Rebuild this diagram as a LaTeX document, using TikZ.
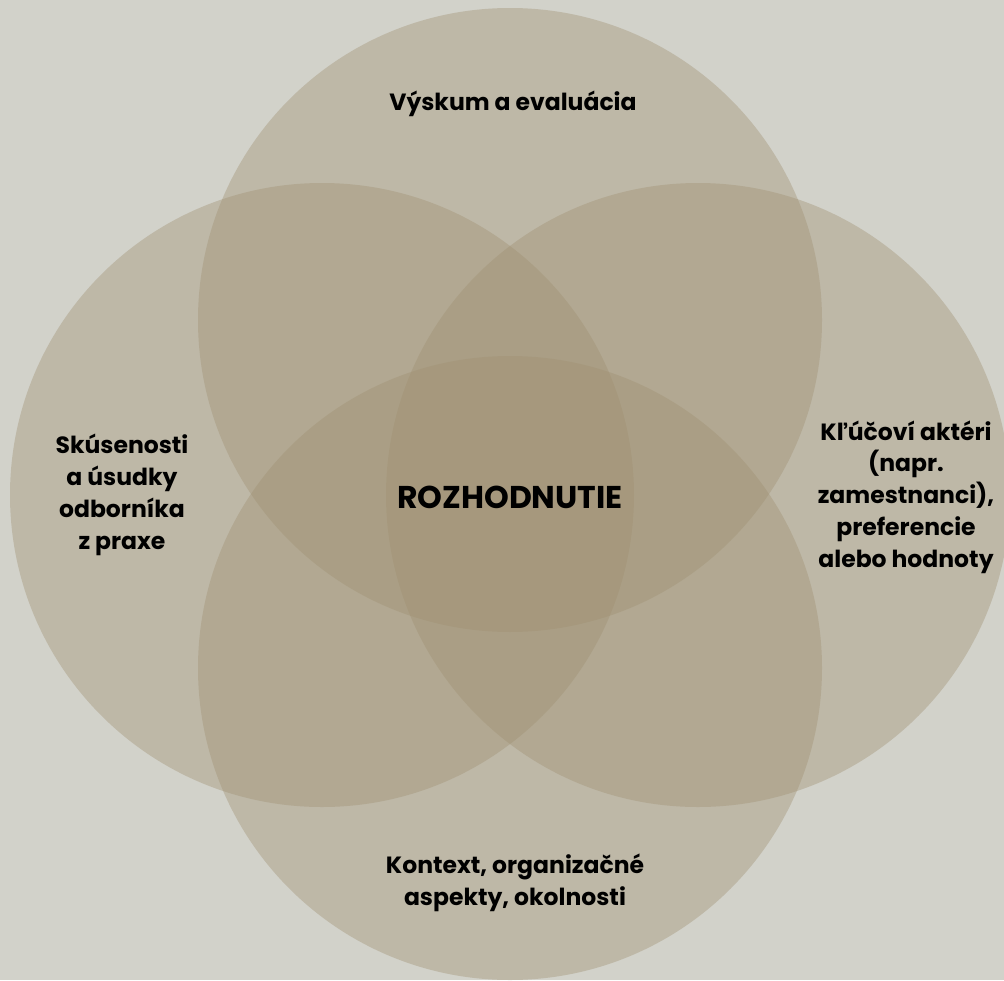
\documentclass[tikz,border=0pt]{standalone}
\usepackage{fontspec}
\setmainfont{Poppins}[UprightFont=* Bold]
\definecolor{bgc}{RGB}{210,210,202}
\definecolor{petal}{RGB}{160,145,115}
\begin{document}
\begin{tikzpicture}[x=1pt,y=-1pt,
  petalc/.style={circle,fill=petal,fill opacity=0.4,draw=none,minimum size=624pt,inner sep=0pt},
  lbl/.style={align=center,font=\fontsize{23.5}{31.8}\selectfont,text=black,inner sep=0pt}]
  \fill[bgc] (0,0) rectangle (1004,980);
  \useasboundingbox (0,0) rectangle (1004,980);
  \begin{scope}
    \clip (0,0) rectangle (1004,980);
    \node[petalc] (ctop) at (510,320) {};
    \node[petalc] (cleft) at (322,495) {};
    \node[petalc] (cright) at (698,495) {};
    \node[petalc] (cbottom) at (510,668) {};
  \end{scope}
  \node[lbl] (ttop) at (513,104) {Výskum a evaluácia};
  \node[lbl] (tleft) at (122,495) {Skúsenosti\\a úsudky\\odborníka\\z praxe};
  \node[lbl] (tright) at (906,497) {Kľúčoví aktéri\\(napr.\\zamestnanci),\\preferencie\\alebo hodnoty};
  \node[lbl] (tbottom) at (515,883) {Kontext, organizačné\\aspekty, okolnosti};
  \node[lbl,font=\fontsize{31.5}{32}\selectfont] (tcenter) at (510,497) {ROZHODNUTIE};
\end{tikzpicture}
\end{document}
